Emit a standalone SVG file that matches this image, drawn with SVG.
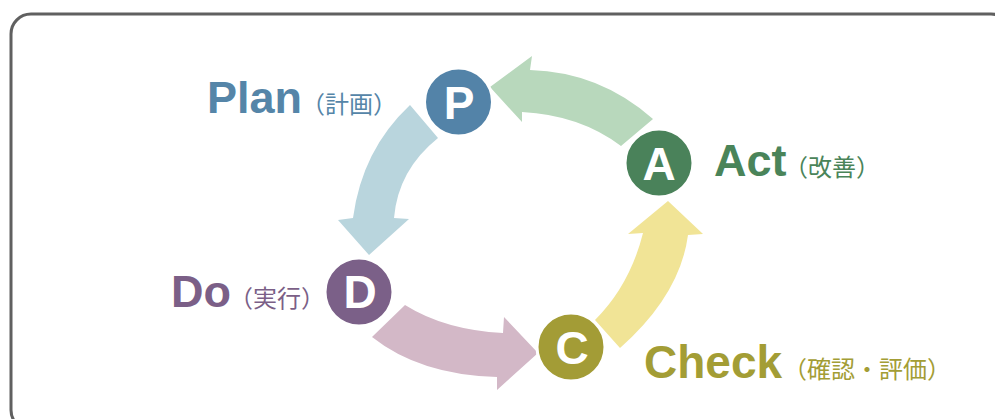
<svg xmlns="http://www.w3.org/2000/svg" width="995" height="419" viewBox="0 0 995 419">
<style>
.lat{font-family:"Liberation Sans",Arial,sans-serif;font-weight:bold;}
.cjk{font-family:"Noto Sans CJK JP","Noto Sans",sans-serif;font-size:24px;}
.big{font-size:45px;}
.letter{font-family:"Liberation Sans",Arial,sans-serif;font-weight:bold;font-size:46px;fill:#fff;text-anchor:middle;}
.node circle{stroke:#fff;stroke-width:3;}
</style>
<rect x="11" y="14" width="1000" height="416" rx="20" ry="20" fill="#fff" stroke="#606060" stroke-width="3"/>
<g id="connectors">
  <path id="arrow-a-p" fill="#B8D8BC" d="M653,119 Q600,72 530,70 L532,56 L490,87 L522,122 L522,112 Q580,115 621,146 Z"/>
  <path id="arrow-p-d" fill="#B9D5DD" d="M410,105 Q362,150 353,218 L338,220 L369,255 L409,219 L394,218 Q398,170 438,138 Z"/>
  <path id="arrow-d-c" fill="#D3B8C7" d="M405,305 Q445,330 503,333 L504,317 L538,353 L497,390 L497,377 Q420,375 372,337 Z"/>
  <path id="arrow-c-a" fill="#F1E496" d="M595,320 Q630,285 643,233 L628,234 L668,201 L703,234 L688,235 Q680,295 620,348 Z"/>
</g>
<g id="node-p" class="node">
  <circle cx="458.5" cy="102" r="34" fill="#5383A8"/>
  <text class="letter" x="459" y="119">P</text>
</g>
<g id="node-a" class="node">
  <circle cx="659" cy="163" r="34" fill="#4A825A"/>
  <text class="letter" x="659" y="180">A</text>
</g>
<g id="node-d" class="node">
  <circle cx="359" cy="292" r="34" fill="#7B6088"/>
  <text class="letter" x="360" y="308">D</text>
</g>
<g id="node-c" class="node">
  <circle cx="571" cy="347" r="34" fill="#A39C36"/>
  <text class="letter" x="572" y="364">C</text>
</g>
<g id="label-plan" fill="#5585A8">
  <text class="lat big" x="207" y="113">Plan</text>
  <text class="cjk" x="301" y="113">（計画）</text>
</g>
<g id="label-act" fill="#4A8459">
  <text class="lat big" x="714" y="176">Act</text>
  <text class="cjk" x="784" y="176">（改善）</text>
</g>
<g id="label-do" fill="#7B5F87">
  <text class="lat big" x="171" y="307">Do</text>
  <text class="cjk" x="229" y="307">（実行）</text>
</g>
<g id="label-check" fill="#A39D35">
  <text class="lat" font-size="46" x="644" y="378">Check</text>
  <text class="cjk" x="783" y="378">（確認・評価）</text>
</g>
</svg>
